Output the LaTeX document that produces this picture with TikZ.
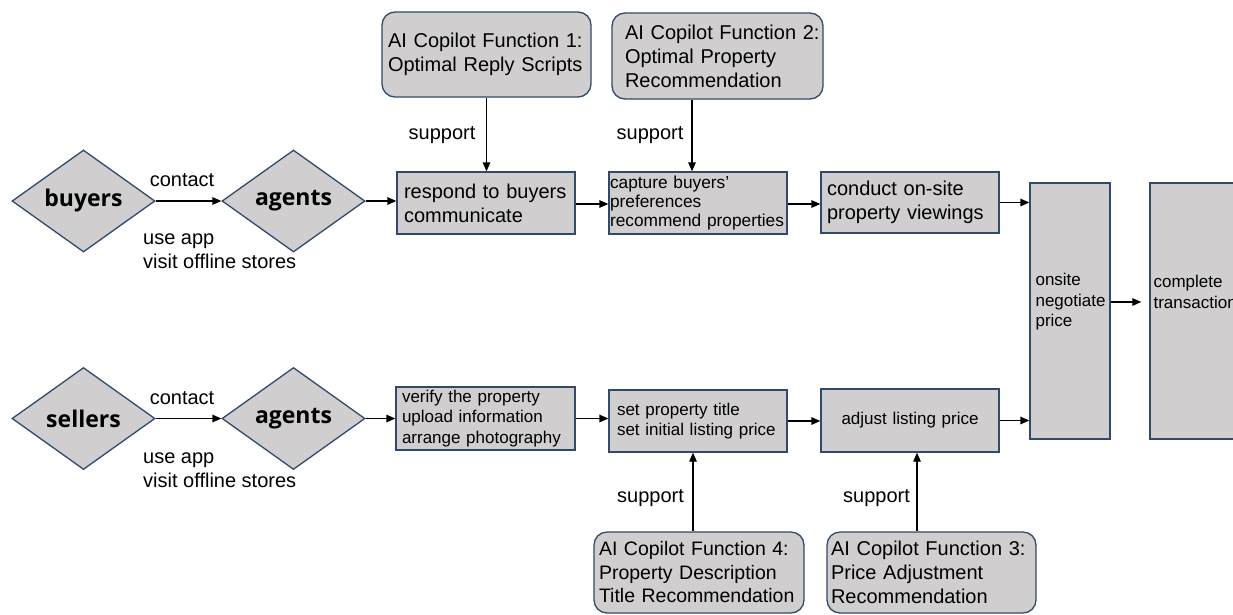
\documentclass[tikz,border=0pt]{standalone}
\usepackage{fontspec}
\setmainfont{Liberation Sans}
\newfontfamily\boldfam{Open Sans}
\usetikzlibrary{shapes.geometric,arrows.meta}
\definecolor{boxfill}{HTML}{D0CECE}
\definecolor{boxline}{HTML}{2F4A6B}
\hyphenpenalty=10000
\begin{document}
\begin{tikzpicture}[x=1pt,y=-1pt,
  base/.style={draw=boxline, fill=boxfill, line width=1.3pt},
  pbox/.style={base, rectangle, inner ysep=0pt, align=left},
  aibox/.style={pbox, rounded corners=13pt},
  dia/.style={base, diamond, inner sep=0pt, minimum width=143pt, minimum height=102pt,
    font=\boldfam\bfseries\fontsize{23}{28}\selectfont},
  lbl/.style={inner sep=0pt, font=\fontsize{20}{24}\selectfont},
  arr/.style={line width=1.3pt, -{Triangle[length=9pt,width=7.5pt]}},
  f20/.style={font=\fontsize{20}{24}\selectfont},
  f17/.style={font=\fontsize{17}{20.5}\selectfont}
]
\useasboundingbox (0,0) rectangle (1233,614);

% diamonds
\node[dia] (buyers) at (83.5,201) {buyers};
\node[dia] (agentsA) at (293.5,201) {agents};
\node[dia] (sellers) at (83.5,418.5) {sellers};
\node[dia] (agentsB) at (293.5,418.5) {agents};

% top row
\node[pbox, f20, inner xsep=7pt, text width=164pt, minimum height=62pt] (respond) at (486,203)
  {respond to buyers\\communicate};
\node[pbox, inner xsep=1pt, text width=176pt, minimum height=62pt,
  font=\fontsize{17.3}{18.7}\selectfont] (capture) at (698,203)
  {capture buyers’\\preferences\\recommend properties};
\node[pbox, f20, inner xsep=6pt, text width=166pt, minimum height=61pt] (conduct) at (910,202.5)
  {conduct on-site\\property viewings};

% bottom row
\node[pbox, f17, inner xsep=6pt, text width=167pt, minimum height=63pt] (verify) at (485.5,418.5)
  {verify the property\\upload information\\arrange photography};
\node[pbox, f17, inner xsep=8pt, text width=162pt, minimum height=62pt] (setp) at (698,421)
  {set property title\\set initial listing price};
\node[pbox, f17, align=center, inner xsep=0pt, text width=178pt, minimum height=63pt] (adjust) at (910,420.5)
  {adjust listing price};

% tall boxes
\node[pbox, minimum width=80pt, minimum height=256pt] (onsite) at (1070,311) {};
\node[f17, align=left, inner sep=0pt, anchor=west] (onsitetxt) at ([xshift=6pt,yshift=9pt]onsite.west)
  {onsite\\negotiate\\price};
\node[pbox, minimum width=95pt, minimum height=256pt] (complete) at (1197.5,311) {};
\node[f17, align=left, inner sep=0pt, anchor=west] (completetxt) at ([xshift=4pt,yshift=19pt]complete.west)
  {complete\\transaction};

% AI boxes
\node[aibox, f20, inner xsep=6pt, text width=197pt, minimum height=85pt] (ai1) at (486.5,54.5)
  {\mbox{AI Copilot Function 1:}\\Optimal Reply Scripts};
\node[aibox, f20, inner xsep=3pt, text width=205pt, minimum height=86pt] (ai2) at (717.5,56)
  {\hspace*{10pt}\mbox{AI Copilot Function 2:}\\\hspace*{10pt}Optimal Property\\\hspace*{10pt}Recommendation};
\node[aibox, inner xsep=5pt, text width=200pt, minimum height=81pt,
  font=\fontsize{19.5}{23.5}\selectfont] (ai4) at (699,572.5)
  {\mbox{AI Copilot Function 4:}\\Property Description\\Title Recommendation};
\node[aibox, f20, inner xsep=4pt, text width=201pt, minimum height=81pt] (ai3) at (931.5,572.5)
  {\mbox{AI Copilot Function 3:}\\Price Adjustment\\Recommendation};

% labels
\node[lbl] (contactA) at (182,180) {contact};
\node[lbl, align=left, anchor=west] (useA) at (143,251.5) {use app\\visit offline stores};
\node[lbl] (contactB) at (182,398) {contact};
\node[lbl, align=left, anchor=west] (useB) at (143,470) {use app\\visit offline stores};
\node[lbl] (sup1) at (442,135) {support};
\node[lbl] (sup2) at (650,135) {support};
\node[lbl] (sup4) at (650.5,498) {support};
\node[lbl] (sup3) at (876.5,498) {support};

% connectors
\draw[arr] (buyers.east) -- (agentsA.west);
\draw[arr] (agentsA.east) -- (agentsA.east -| respond.west);
\draw[arr] ([yshift=-1pt]respond.east) -- ([yshift=-1pt]capture.west);
\draw[arr] ([yshift=-1pt]capture.east) -- ([yshift=-1pt]capture.east -| conduct.west);
\draw[arr] (conduct.east) -- (conduct.east -| onsite.west);
\draw[arr] (ai1.south) -- (ai1.south |- respond.north);
\draw[arr] ([xshift=-25.5pt]ai2.south) -- ([xshift=-6pt]capture.north);

\draw[arr] (sellers.east) -- (agentsB.west);
\draw[arr] (agentsB.east) -- (agentsB.east -| verify.west);
\draw[arr] (verify.east) -- (verify.east -| setp.west);
\draw[arr] (setp.east) -- (setp.east -| adjust.west);
\draw[arr] (adjust.east) -- (adjust.east -| onsite.west);
\draw[arr] ([xshift=-6pt]ai4.north) -- ([xshift=-5pt]setp.south);
\draw[arr] ([xshift=-14.5pt]ai3.north) -- ([xshift=7pt]adjust.south);

\draw[arr, shorten >=8pt] ([yshift=9pt]onsite.east) -- ([yshift=9pt]complete.west);
\end{tikzpicture}
\end{document}
